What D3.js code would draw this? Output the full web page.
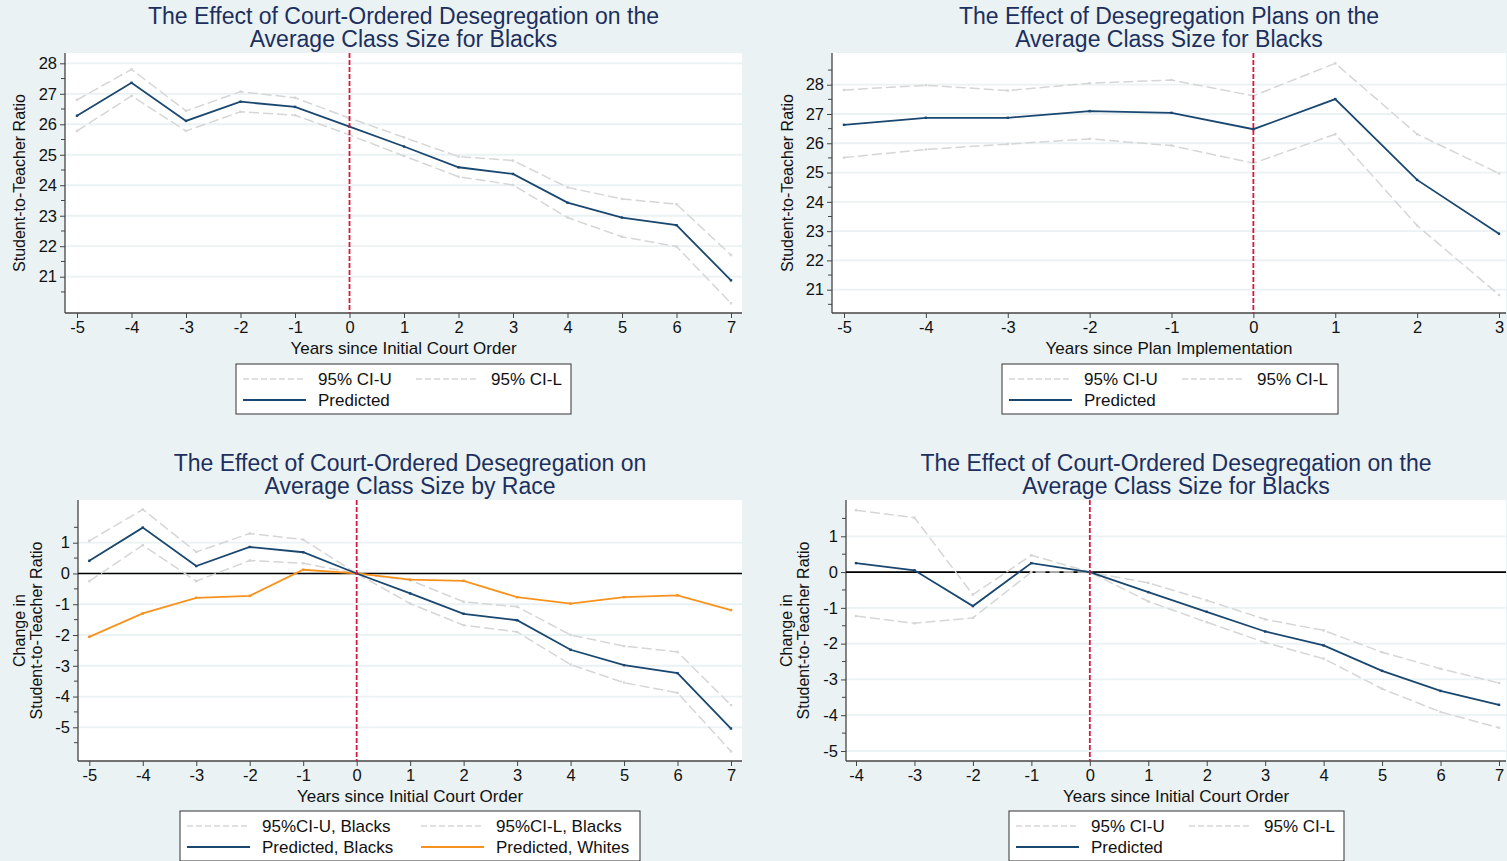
<!DOCTYPE html>
<html>
<head>
<meta charset="utf-8">
<script src="https://cdn.jsdelivr.net/npm/d3@7"></script>
<style>
  body { margin: 0; background: #eaf2f3; }
  text { font-family: "Liberation Sans", Arial, sans-serif; }
</style>
</head>
<body>
<svg id="chart" width="1507" height="861"></svg>
<script>
// panel 1: court-ordered desegregation, blacks (levels)
var years1 = [-5, -4, -3, -2, -1, 0, 1, 2, 3, 4, 5, 6, 7];
var pred1 = [26.28, 27.36, 26.11, 26.74, 26.57, 25.92, 25.27, 24.59, 24.37, 23.43, 22.94, 22.69, 20.88];
var ciU1 = [26.80, 27.80, 26.44, 27.07, 26.87, 26.20, 25.57, 24.94, 24.81, 23.93, 23.55, 23.38, 21.71];
var ciL1 = [25.78, 26.93, 25.78, 26.41, 26.30, 25.65, 24.96, 24.28, 24.01, 22.94, 22.31, 21.99, 20.13];

// panel 2: desegregation plans, blacks (levels)
var years2 = [-5, -4, -3, -2, -1, 0, 1, 2, 3];
var pred2 = [26.63, 26.87, 26.87, 27.10, 27.04, 26.48, 27.51, 24.75, 22.91];
var ciU2 = [27.82, 27.98, 27.80, 28.05, 28.16, 27.62, 28.73, 26.31, 24.97];
var ciL2 = [25.51, 25.79, 25.97, 26.15, 25.92, 25.32, 26.31, 23.19, 20.82];

// panel 3: change by race
var years3 = [-5, -4, -3, -2, -1, 0, 1, 2, 3, 4, 5, 6, 7];
var predB3 = [0.41, 1.49, 0.24, 0.86, 0.69, 0, -0.65, -1.31, -1.52, -2.48, -2.98, -3.24, -5.04];
var ciU3 = [1.06, 2.08, 0.70, 1.30, 1.10, 0, -0.22, -0.92, -1.08, -2.00, -2.36, -2.55, -4.28];
var ciL3 = [-0.25, 0.92, -0.25, 0.42, 0.33, 0, -0.98, -1.68, -1.90, -2.96, -3.55, -3.88, -5.78];
var predW3 = [-2.06, -1.30, -0.79, -0.73, 0.12, 0, -0.20, -0.24, -0.77, -0.98, -0.77, -0.71, -1.19];

// panel 4: change, blacks
var years4 = [-4, -3, -2, -1, 0, 1, 2, 3, 4, 5, 6, 7];
var pred4 = [0.25, 0.05, -0.95, 0.25, 0, -0.56, -1.11, -1.66, -2.05, -2.76, -3.32, -3.71];
var ciU4 = [1.73, 1.52, -0.63, 0.47, 0, -0.30, -0.79, -1.32, -1.63, -2.24, -2.70, -3.10];
var ciL4 = [-1.23, -1.43, -1.28, 0, 0, -0.82, -1.40, -1.97, -2.42, -3.26, -3.91, -4.35];

var yTicksLevel = [21, 22, 23, 24, 25, 26, 27, 28];
var yTicksChange = [-5, -4, -3, -2, -1, 0, 1];

var navy = "#1a476f", orange = "#f7921e", ciGray = "#d6d6d6", red = "#d7193f";
var svg = d3.select("#chart");

function panel(cfg) {
  var g = svg.append("g");
  var x = d3.scaleLinear().domain(cfg.xd).range(cfg.xr);
  var y = d3.scaleLinear().domain(cfg.yd).range(cfg.yr);

  g.append("rect").attr("x", cfg.left).attr("y", cfg.top)
    .attr("width", cfg.right - cfg.left).attr("height", cfg.bottom - cfg.top)
    .attr("fill", "#fff");

  // gridlines
  g.selectAll(".grid").data(cfg.yTicks).enter().append("line")
    .attr("x1", cfg.left).attr("x2", cfg.right)
    .attr("y1", d => y(d)).attr("y2", d => y(d))
    .attr("stroke", "#eaf2f3").attr("stroke-width", 1.8);

  // axes
  var yAxis = d3.axisLeft(y).tickValues(cfg.yTicks).tickSize(5).tickPadding(3).tickFormat(d => String(d));
  var ya = g.append("g").attr("transform", "translate(" + cfg.left + ",0)").call(yAxis);
  var minor = d3.range(cfg.yd[0] - 0.5, cfg.yd[1] + 1, 1).filter(v => y(v) >= cfg.top && y(v) <= cfg.bottom);
  ya.selectAll(".minor").data(minor).enter().append("line")
    .attr("x1", -4).attr("x2", 0).attr("y1", d => y(d)).attr("y2", d => y(d))
    .attr("stroke", "#444");
  ya.select(".domain").attr("d", "M0," + cfg.top + "V" + cfg.bottom);

  var xAxis = d3.axisBottom(x).tickValues(cfg.xTicks).tickSize(5).tickPadding(3).tickFormat(d => String(d));
  var xa = g.append("g").attr("transform", "translate(0," + cfg.bottom + ")").call(xAxis);
  xa.select(".domain").attr("d", "M" + cfg.left + ",0H" + cfg.right);

  [ya, xa].forEach(a => {
    a.selectAll("text").attr("font-size", 16.5).attr("fill", "#111")
      .attr("font-family", "'Liberation Sans', Arial, sans-serif");
    a.selectAll("line").attr("stroke", "#444");
    a.select(".domain").attr("stroke", "#444").attr("stroke-width", 1.3);
  });

  if (cfg.zero) {
    g.append("line").attr("x1", cfg.left).attr("x2", cfg.right)
      .attr("y1", y(0)).attr("y2", y(0)).attr("stroke", "#000").attr("stroke-width", 1.6);
  }

  var line = d3.line().x(d => x(d[0])).y(d => y(d[1]));
  cfg.series.forEach(s => {
    var pts = cfg.years.map((yr, i) => [yr, s.values[i]]);
    g.append("path").datum(pts)
      .attr("d", line).attr("fill", "none").attr("stroke", s.color)
      .attr("stroke-width", s.dash ? 1.5 : 1.8)
      .attr("stroke-dasharray", s.dash ? "10,4" : null);
    // tiny vertex markers
    g.selectAll(null).data(pts).enter().append("rect")
      .attr("x", d => x(d[0]) - 1.2).attr("y", d => y(d[1]) - 1.2)
      .attr("width", 2.4).attr("height", 2.4).attr("fill", s.color);
  });

  // vertical reference at 0
  g.append("line").attr("x1", x(0)).attr("x2", x(0))
    .attr("y1", cfg.top).attr("y2", cfg.bottom)
    .attr("stroke", red).attr("stroke-width", 1.8).attr("stroke-dasharray", "5,2");

  // titles
  var cx = (cfg.left + cfg.right) / 2;
  cfg.title.forEach((t, i) => {
    g.append("text").attr("x", cx).attr("y", cfg.top - 29 + i * 23)
      .attr("text-anchor", "middle").attr("font-size", 23).attr("fill", "#1c2f5e").text(t);
  });
  g.append("text").attr("x", cx).attr("y", cfg.bottom + 41)
    .attr("text-anchor", "middle").attr("font-size", 17).attr("fill", "#111").text(cfg.xTitle);
  var cy = (cfg.top + cfg.bottom) / 2;
  cfg.yTitle.forEach((t, i) => {
    var tx = cfg.yTitleX + i * 17;
    g.append("text").attr("transform", "translate(" + tx + "," + cy + ") rotate(-90)")
      .attr("text-anchor", "middle").attr("font-size", 16).attr("fill", "#111").text(t);
  });

  // legend
  var L = cfg.legend;
  g.append("rect").attr("x", L.x).attr("y", L.y).attr("width", L.w).attr("height", 50)
    .attr("fill", "#fff").attr("stroke", "#333").attr("stroke-width", 1);
  L.items.forEach((it, i) => {
    var col = i % 2, row = Math.floor(i / 2);
    var lx = L.x + 7 + col * L.colW, ly = L.y + 15 + row * 21;
    g.append("line").attr("x1", lx).attr("x2", lx + 63).attr("y1", ly).attr("y2", ly)
      .attr("stroke", it.color).attr("stroke-width", it.dash ? 1.3 : 1.8)
      .attr("stroke-dasharray", it.dash ? "6,3" : null);
    g.append("text").attr("x", lx + 75).attr("y", ly + 6).attr("font-size", 17)
      .attr("fill", "#111").text(it.label);
  });
}

panel({
  left: 65, right: 742, top: 53, bottom: 313,
  xd: [-5, 7], xr: [77, 731], yd: [21, 28], yr: [276.7, 63.3],
  xTicks: years1, yTicks: yTicksLevel, years: years1,
  series: [
    { values: ciU1, color: ciGray, dash: true },
    { values: ciL1, color: ciGray, dash: true },
    { values: pred1, color: navy }
  ],
  title: ["The Effect of Court-Ordered Desegregation on the", "Average Class Size for Blacks"],
  xTitle: "Years since Initial Court Order",
  yTitle: ["Student-to-Teacher Ratio"], yTitleX: 25,
  legend: { x: 236, y: 364, w: 335, colW: 173, items: [
    { label: "95% CI-U", color: ciGray, dash: true },
    { label: "95% CI-L", color: ciGray, dash: true },
    { label: "Predicted", color: navy }
  ] }
});

panel({
  left: 832, right: 1506, top: 53, bottom: 313,
  xd: [-5, 3], xr: [844, 1499], yd: [21, 28], yr: [289.7, 84.7],
  xTicks: years2, yTicks: yTicksLevel, years: years2,
  series: [
    { values: ciU2, color: ciGray, dash: true },
    { values: ciL2, color: ciGray, dash: true },
    { values: pred2, color: navy }
  ],
  title: ["The Effect of Desegregation Plans on the", "Average Class Size for Blacks"],
  xTitle: "Years since Plan Implementation",
  yTitle: ["Student-to-Teacher Ratio"], yTitleX: 793,
  legend: { x: 1002, y: 364, w: 336, colW: 173, items: [
    { label: "95% CI-U", color: ciGray, dash: true },
    { label: "95% CI-L", color: ciGray, dash: true },
    { label: "Predicted", color: navy }
  ] }
});

panel({
  left: 78, right: 742, top: 500, bottom: 761, zero: true,
  xd: [-5, 7], xr: [89.3, 731], yd: [-5, 1], yr: [727.3, 542.7],
  xTicks: years3, yTicks: yTicksChange, years: years3,
  series: [
    { values: ciU3, color: ciGray, dash: true },
    { values: ciL3, color: ciGray, dash: true },
    { values: predW3, color: orange },
    { values: predB3, color: navy }
  ],
  title: ["The Effect of Court-Ordered Desegregation on", "Average Class Size by Race"],
  xTitle: "Years since Initial Court Order",
  yTitle: ["Change in", "Student-to-Teacher Ratio"], yTitleX: 25,
  legend: { x: 180, y: 811, w: 460, colW: 234, items: [
    { label: "95%CI-U, Blacks", color: ciGray, dash: true },
    { label: "95%CI-L, Blacks", color: ciGray, dash: true },
    { label: "Predicted, Blacks", color: navy },
    { label: "Predicted, Whites", color: orange }
  ] }
});

panel({
  left: 846, right: 1506, top: 500, bottom: 761, zero: true,
  xd: [-4, 7], xr: [856, 1499], yd: [-5, 1], yr: [751, 536.3],
  xTicks: years4, yTicks: yTicksChange, years: years4,
  series: [
    { values: ciU4, color: ciGray, dash: true },
    { values: ciL4, color: ciGray, dash: true },
    { values: pred4, color: navy }
  ],
  title: ["The Effect of Court-Ordered Desegregation on the", "Average Class Size for Blacks"],
  xTitle: "Years since Initial Court Order",
  yTitle: ["Change in", "Student-to-Teacher Ratio"], yTitleX: 792,
  legend: { x: 1009, y: 811, w: 335, colW: 173, items: [
    { label: "95% CI-U", color: ciGray, dash: true },
    { label: "95% CI-L", color: ciGray, dash: true },
    { label: "Predicted", color: navy }
  ] }
});
</script>
</body>
</html>
